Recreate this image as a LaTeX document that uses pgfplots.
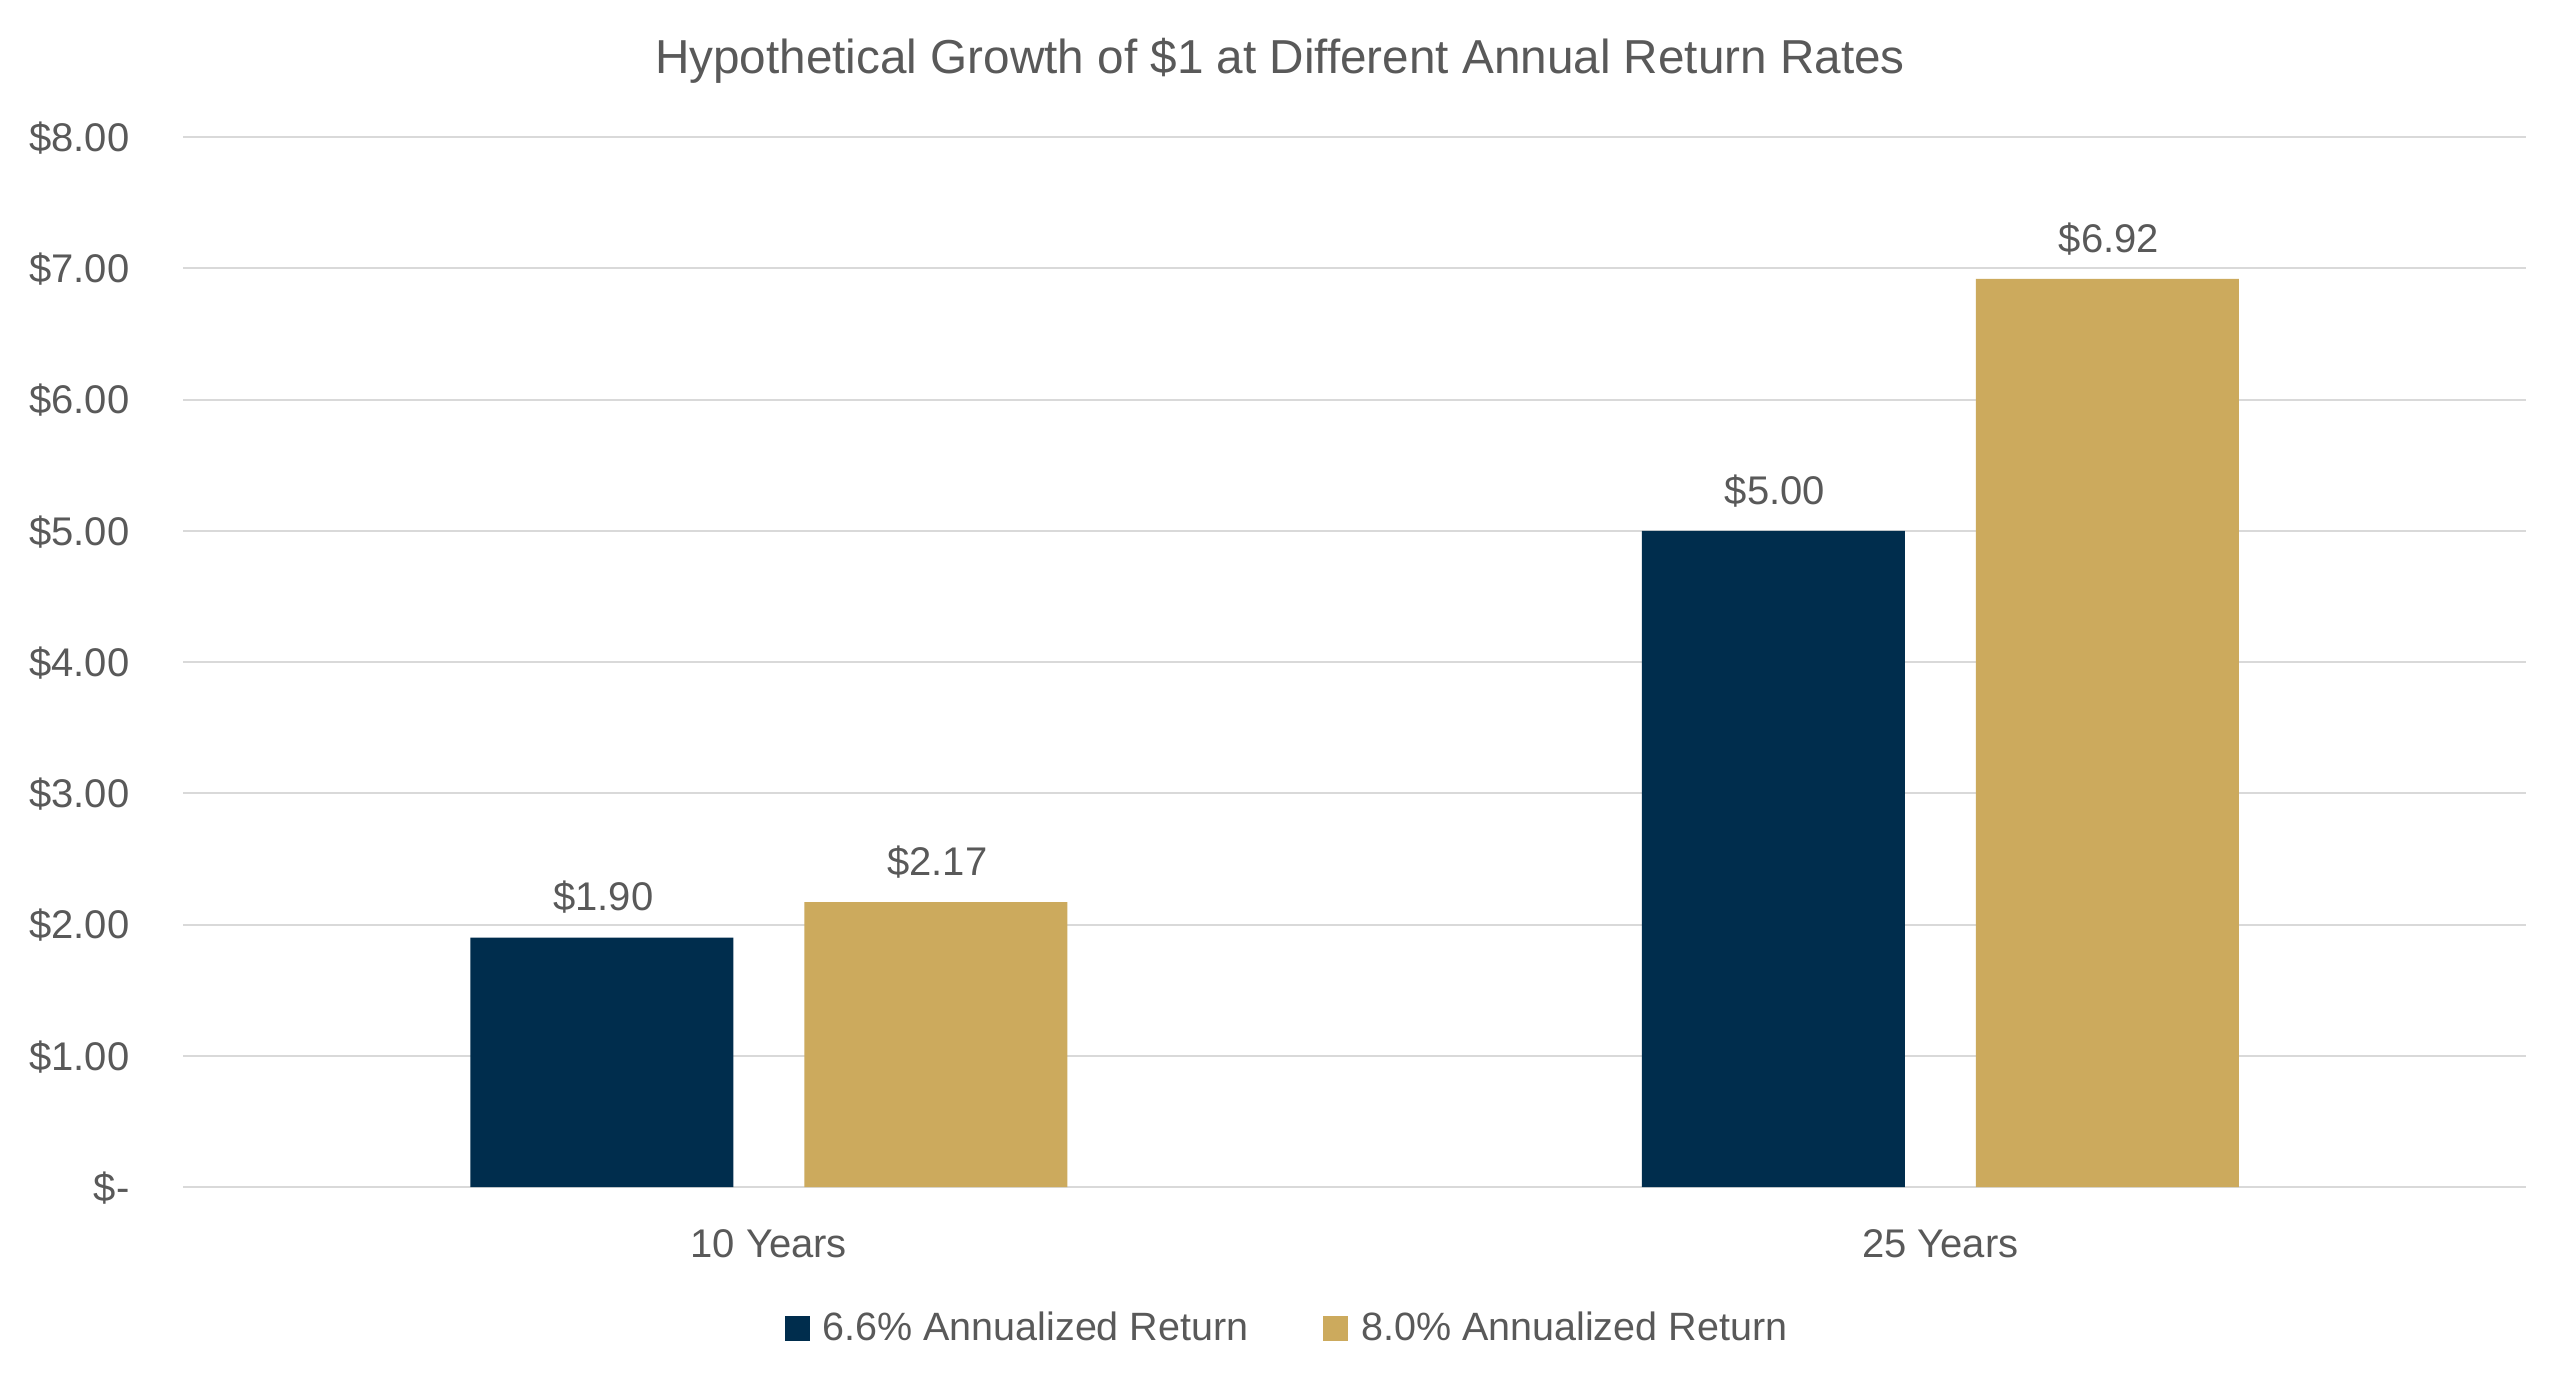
\documentclass[border=0pt]{standalone}
\usepackage{fontspec}
\setmainfont{Liberation Sans}
\usepackage{pgfplots}
\pgfplotsset{compat=1.18}
\definecolor{navy}{HTML}{002D4D}
\definecolor{gold}{HTML}{CCAA5D}
\definecolor{txt}{HTML}{595959}
\definecolor{gridc}{HTML}{D9D9D9}
\begin{document}
\begin{tikzpicture}
\fill[white] (0,0) rectangle (768pt,415.5pt);
\node[anchor=base, text=txt, font=\fontsize{14.3}{17}\selectfont, inner sep=0pt] at (384pt,393.3pt) {Hypothetical Growth of \$1 at Different Annual Return Rates};
\begin{axis}[
  at={(54.9pt,59.4pt)}, anchor=south west,
  scale only axis, width=702.9pt, height=315pt,
  xmin=-0.5, xmax=1.5, ymin=0, ymax=8,
  xtick={0,1}, xticklabels={10 Years,25 Years},
  ytick={0,1,2,3,4,5,6,7,8},
  yticklabels={\$-\hspace{5pt},\$1.00,\$2.00,\$3.00,\$4.00,\$5.00,\$6.00,\$7.00,\$8.00},
  axis line style={draw=none},
  major tick style={draw=none},
  ymajorgrids, grid style={gridc, line width=0.6pt},
  yticklabel style={anchor=base east, inner sep=0pt, xshift=-15.9pt, yshift=-4.3pt, text=txt, font=\fontsize{12}{14}\selectfont},
  xticklabel style={anchor=base, inner sep=0pt, yshift=-21.1pt, text=txt, font=\fontsize{12}{14}\selectfont},
  nodes near coords={\$\pgfmathprintnumber[fixed,fixed zerofill,precision=2,assume math mode=true]{\pgfplotspointmeta}},
  every node near coord/.append style={anchor=base, yshift=8pt, inner sep=0pt, text=txt, font=\fontsize{12}{14}\selectfont},
  legend columns=2,
  legend style={at={(0.4735,-0.1352)}, anchor=center, draw=none, fill=none, text=txt, font=\fontsize{11.85}{14}\selectfont,
    nodes={inner xsep=3.9pt},
    /tikz/every even column/.append style={column sep=18.5pt}},
  legend image code/.code={\fill[#1] (0pt,-3.75pt) rectangle (7.5pt,3.75pt);},
]
\addplot[ybar, fill=navy, draw=none, bar width=78.9pt, bar shift=-50.1pt, every node near coord/.append style={xshift=-49.6pt}] coordinates {(0,1.90) (1,5.00)};
\addlegendentry{6.6\% Annualized Return}
\addplot[ybar, fill=gold, draw=none, bar width=78.9pt, bar shift=50.1pt, every node near coord/.append style={xshift=50.6pt}] coordinates {(0,2.17) (1,6.92)};
\addlegendentry{8.0\% Annualized Return}
\end{axis}
\end{tikzpicture}
\end{document}
